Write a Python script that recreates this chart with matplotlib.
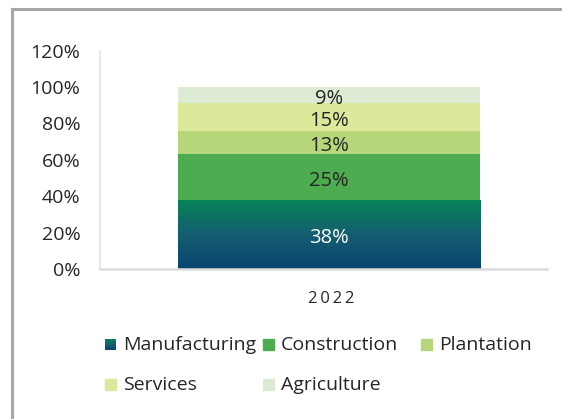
import numpy as np
import matplotlib
matplotlib.use("Agg")
import matplotlib.pyplot as plt
from matplotlib.lines import Line2D
from matplotlib.patches import Rectangle
from matplotlib.colors import LinearSegmentedColormap

plt.rcParams['font.family'] = ['Open Sans', 'DejaVu Sans']

year = ["2022"]
sectors = ["Manufacturing", "Construction", "Plantation", "Services", "Agriculture"]
shares = [38, 25, 13, 15, 9]
colors = ["#0b5a72", "#4eac50", "#b5d77a", "#dce89a", "#ddebd5"]
label_colors = ["white", "#262626", "#262626", "#262626", "#262626"]
yticks = [0, 20, 40, 60, 80, 100, 120]

W, H = 562, 419
fig = plt.figure(figsize=(W / 100, H / 100), dpi=100)
ax = fig.add_axes([100 / W, 1 - 269 / H, 447 / W, (269 - 50.6) / H])

grad = LinearSegmentedColormap.from_list("mfg", ["#0a4470", "#155e70", "#058556"])

xpos = 0.012
bottom = 0
for i, (name, val) in enumerate(zip(sectors, shares)):
    bars = ax.bar(xpos, val, width=0.676, bottom=bottom, color=colors[i],
                  linewidth=0, zorder=2)
    patch = bars[0]
    if i == 0:
        x0, w = patch.get_x(), patch.get_width()
        img = ax.imshow(np.linspace(0, 1, 256).reshape(-1, 1), cmap=grad,
                        origin="lower", aspect="auto",
                        extent=[x0, x0 + w, bottom, bottom + val], zorder=3)
        img.set_clip_path(patch)
    ax.annotate(f"{val}%", (xpos, bottom + val / 2), xytext=(0, -2.5),
                textcoords="offset points", ha="center", va="center",
                fontsize=14.5, color=label_colors[i], zorder=4)
    bottom += val

ax.set_xlim(-0.5, 0.5)
ax.set_ylim(0, 120)
ax.set_yticks(yticks)
ax.set_yticklabels([f"{t}%" for t in yticks], fontsize=14, color="#262626")
ax.set_xticks([xpos + 0.006])
ax.set_xticklabels(["\u2009".join(year[0])], fontsize=12, color="#262626")
ax.tick_params(axis="y", length=0, pad=14)
ax.tick_params(axis="x", length=0, pad=15.5)
for s in ["top", "right"]:
    ax.spines[s].set_visible(False)
ax.spines["left"].set_color("#e3e3e3")
ax.spines["left"].set_linewidth(1.2)
ax.spines["bottom"].set_color("#dcdcdc")
ax.spines["bottom"].set_linewidth(1.8)
ax.spines["bottom"].set_zorder(5)

# legend laid out in three columns below the plot
legend_pos = [(105, 344.5), (263, 344.5), (421, 344.5), (105, 384.5), (263, 384.5)]
for i, (name, (px, py)) in enumerate(zip(sectors, legend_pos)):
    sq = 11
    rect_ax = [px / W, 1 - (py + sq / 2) / H, sq / W, sq / H]
    if i == 0:
        lax = fig.add_axes(rect_ax)
        lax.imshow(np.linspace(0, 1, 64).reshape(-1, 1), cmap=grad,
                   origin="lower", aspect="auto")
        lax.axis("off")
    else:
        fig.patches.append(Rectangle((rect_ax[0], rect_ax[1]), rect_ax[2], rect_ax[3],
                                     transform=fig.transFigure, color=colors[i]))
    fig.text((px + 18) / W, 1 - (py + 0.5) / H, name, ha="left", va="center",
             fontsize=14, color="#262626")

# outer frame
fig.add_artist(Line2D([12 / W, 12 / W], [0, 1 - 9 / H], transform=fig.transFigure,
                      color="#a6a6a6", linewidth=2.2))
fig.add_artist(Line2D([12 / W, 1], [1 - 9 / H, 1 - 9 / H], transform=fig.transFigure,
                      color="#a6a6a6", linewidth=2.2))

fig.savefig("out.png", dpi=100, facecolor="white")
